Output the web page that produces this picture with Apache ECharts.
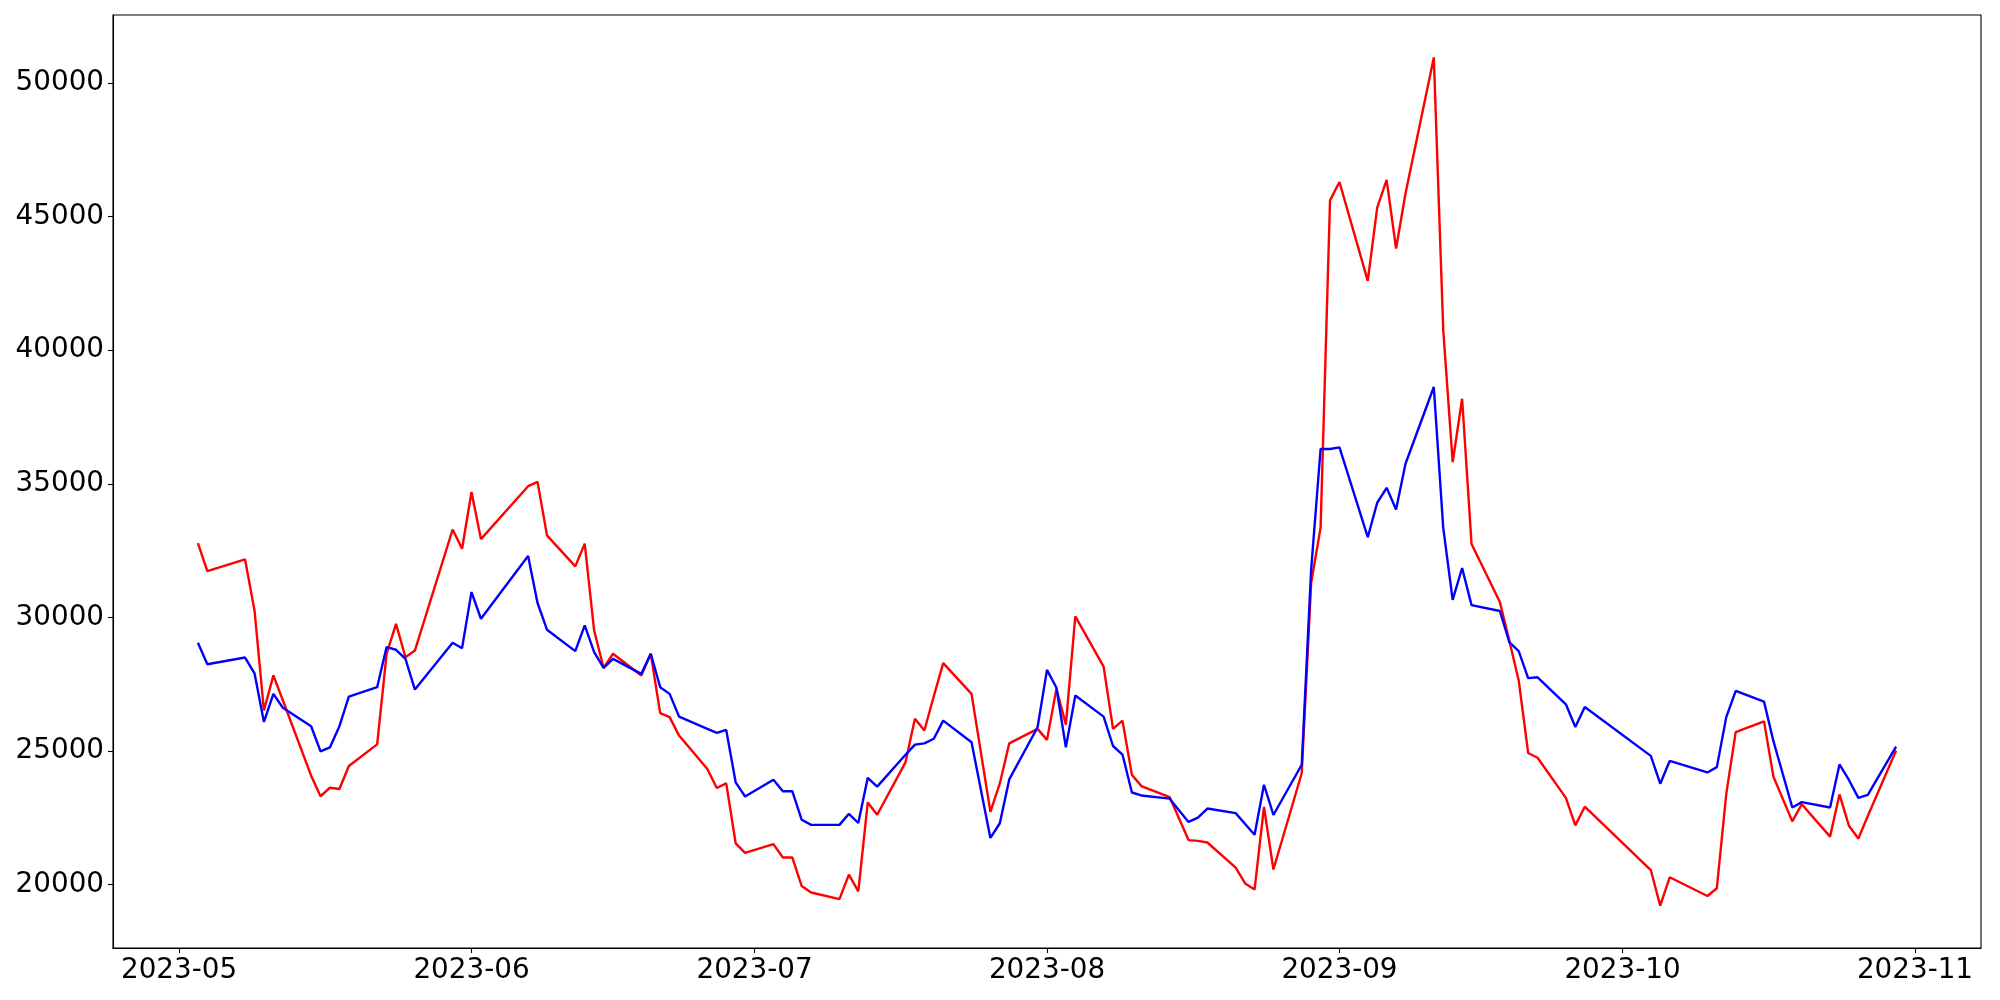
<!DOCTYPE html>
<html>
<head>
<meta charset="utf-8">
<script src="https://cdn.jsdelivr.net/npm/echarts@6/dist/echarts.min.js"></script>
<style>
html,body{margin:0;padding:0;background:#fff;}
#chart{width:2000px;height:1000px;}
</style>
</head>
<body>
<div id="chart"></div>
<script>
const dates = [
'2023-05-03','2023-05-04','2023-05-08','2023-05-09','2023-05-10','2023-05-11','2023-05-12','2023-05-15','2023-05-16','2023-05-17','2023-05-18','2023-05-19',
'2023-05-22','2023-05-23','2023-05-24','2023-05-25','2023-05-26','2023-05-30','2023-05-31','2023-06-01','2023-06-02','2023-06-07','2023-06-08','2023-06-09',
'2023-06-12','2023-06-13','2023-06-14','2023-06-15','2023-06-16','2023-06-19','2023-06-20','2023-06-21','2023-06-22','2023-06-23','2023-06-26','2023-06-27',
'2023-06-28','2023-06-29','2023-06-30','2023-07-03','2023-07-04','2023-07-05','2023-07-06','2023-07-07','2023-07-10','2023-07-11','2023-07-12','2023-07-13',
'2023-07-14','2023-07-17','2023-07-18','2023-07-19','2023-07-20','2023-07-21','2023-07-24','2023-07-26','2023-07-27','2023-07-28','2023-07-31','2023-08-01',
'2023-08-02','2023-08-03','2023-08-04','2023-08-07','2023-08-08','2023-08-09','2023-08-10','2023-08-11','2023-08-14','2023-08-16','2023-08-17','2023-08-18',
'2023-08-21','2023-08-22','2023-08-23','2023-08-24','2023-08-25','2023-08-28','2023-08-29','2023-08-30','2023-08-31','2023-09-01','2023-09-04','2023-09-05',
'2023-09-06','2023-09-07','2023-09-08','2023-09-11','2023-09-12','2023-09-13','2023-09-14','2023-09-15','2023-09-18','2023-09-19','2023-09-20','2023-09-21',
'2023-09-22','2023-09-25','2023-09-26','2023-09-27','2023-10-04','2023-10-05','2023-10-06','2023-10-10','2023-10-11','2023-10-12','2023-10-13','2023-10-16',
'2023-10-17','2023-10-19','2023-10-20','2023-10-23','2023-10-24','2023-10-25','2023-10-26','2023-10-27','2023-10-30'
];

const redValues = [
32780,31730,32170,30260,26520,27830,26900,24080,23310,23630,23580,24440,
25250,28640,29760,28510,28760,33290,32570,34690,32930,34910,35070,33070,
31910,32760,29510,28110,28640,27830,28640,26420,26270,25580,24330,23620,
23790,21550,21190,21520,21020,21020,19950,19710,19460,20380,19750,23080,
22620,24580,26210,25770,27050,28290,27140,22730,23790,25290,25830,25420,
27330,25990,30040,28160,25830,26140,24110,23690,23280,21670,21640,21580,
20640,20050,19820,22910,20570,24170,31300,33360,45600,46290,42590,45330,
46370,43800,45860,50950,40750,35810,38180,32750,30580,29140,27640,24930,
24750,23250,22220,22920,20550,19220,20280,19580,19870,23400,25710,26110,
24040,22370,23010,21800,23380,22210,21730,22570,25020
];

const blueValues = [
29050,28250,28500,27910,26090,27140,26620,25930,24990,25140,25930,27040,
27390,28890,28790,28450,27300,29050,28850,30950,29950,32300,30540,29540,
28740,29700,28700,28110,28450,27890,28640,27390,27140,26290,25830,25680,
25790,23830,23300,23930,23500,23500,22430,22240,22240,22650,22310,24000,
23670,24860,25240,25290,25460,26140,25330,21750,22300,23940,25890,28040,
27370,25140,27080,26290,25190,24870,23450,23340,23220,22350,22510,22850,
22680,22270,21870,23740,22610,24490,31800,36300,36300,36360,33000,34290,
34850,34040,35750,38620,33350,30660,31850,30460,30240,29080,28740,27730,
27760,26750,25900,26650,24820,23780,24630,24200,24400,26270,27250,26850,
25370,22890,23090,22890,24500,23920,23250,23360,25170
];

const monthTicks = ['2023-05-01','2023-06-01','2023-07-01','2023-08-01','2023-09-01','2023-10-01','2023-11-01'];
const yTicks = [20000,25000,30000,35000,40000,45000,50000];

function ts(s){ const p=s.split('-').map(Number); return Date.UTC(p[0],p[1]-1,p[2]); }

const xs = dates.map(ts);
const x0 = xs[0], x1 = xs[xs.length-1];
const xSpan = x1 - x0;
const allV = redValues.concat(blueValues);
const vMin = Math.min.apply(null, allV), vMax = Math.max.apply(null, allV);
const vSpan = vMax - vMin;

const redData = xs.map((t,i)=>[t, redValues[i]]);
const blueData = xs.map((t,i)=>[t, blueValues[i]]);
const monthTs = monthTicks.map(ts);

const font = 'DejaVu Sans';
const chart = echarts.init(document.getElementById('chart'), null, {renderer:'canvas'});
chart.setOption({
  animation:false,
  backgroundColor:'#ffffff',
  grid:{left:113, right:19, top:15, bottom:52, show:true, borderColor:'#000', borderWidth:1.1, containLabel:false},
  xAxis:{
    type:'value',
    min: x0 - 0.05*xSpan,
    max: x1 + 0.05*xSpan,
    axisLine:{show:true, onZero:false, lineStyle:{color:'#000', width:1.1}},
    axisTick:{show:true, length:5, lineStyle:{color:'#000', width:1.1}, customValues: monthTs},
    axisLabel:{
      show:true, margin:9, color:'#000', fontSize:27.8, fontFamily:font,
      customValues: monthTs,
      formatter:function(v){ const d=new Date(v); const m=d.getUTCMonth()+1; return d.getUTCFullYear()+'-'+(m<10?'0'+m:m); }
    },
    splitLine:{show:false}
  },
  yAxis:{
    type:'value',
    min: vMin - 0.05*vSpan,
    max: vMax + 0.05*vSpan,
    axisLine:{show:true, onZero:false, lineStyle:{color:'#000', width:1.1}},
    axisTick:{show:true, length:5, lineStyle:{color:'#000', width:1.1}, customValues: yTicks},
    axisLabel:{show:true, margin:9, color:'#000', fontSize:27.8, fontFamily:font, customValues: yTicks,
      formatter:function(v){return String(v);} },
    splitLine:{show:false}
  },
  series:[
    {type:'line', data:redData, showSymbol:false, symbol:'none', lineStyle:{color:'#ff0000', width:2.4}, itemStyle:{color:'#ff0000'}, emphasis:{disabled:true}, z:2},
    {type:'line', data:blueData, showSymbol:false, symbol:'none', lineStyle:{color:'#0000ff', width:2.4}, itemStyle:{color:'#0000ff'}, emphasis:{disabled:true}, z:3}
  ]
});
</script>
</body>
</html>
